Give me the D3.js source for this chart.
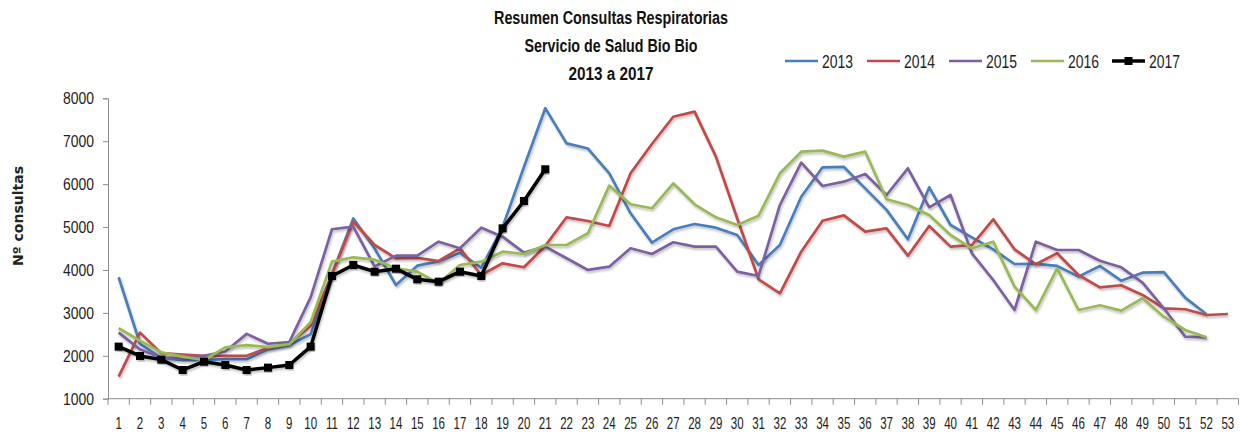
<!DOCTYPE html>
<html><head><meta charset="utf-8">
<script src="https://cdn.jsdelivr.net/npm/d3@7/dist/d3.min.js"></script>
<style>body{margin:0;background:#fff}svg{display:block}</style>
</head><body><div id="chart"></div>
<script>
const weeks = d3.range(1, 54).map(String);
const yTicks = [1000, 2000, 3000, 4000, 5000, 6000, 7000, 8000];
const titleLines = ["Resumen Consultas  Respiratorias", "Servicio de Salud Bio Bio", "2013 a 2017"];
const yTitle = "Nº consultas";
const seriesNames = ["2013", "2014", "2015", "2016", "2017"];
const colors = ["#4A7EBB", "#BE4B48", "#7D60A0", "#98B954", "#000000"];

const s2013 = [3830,2280,1950,1900,1900,1920,1920,2150,2250,2500,3900,5200,4500,3650,4100,4200,4400,4050,5000,6400,7770,6950,6830,6250,5320,4636,4948,5071,4985,4815,4116,4582,5707,6392,6400,5900,5400,4714,5926,5048,4760,4481,4139,4140,4093,3844,4093,3750,3937,3950,3354,2967];
const s2014 = [1514,2540,2060,2030,2000,2000,2000,2180,2280,2700,3900,5125,4582,4272,4280,4209,4505,3883,4155,4062,4560,5227,5140,5025,6252,6935,7571,7688,6640,5200,3782,3456,4426,5148,5273,4892,4970,4333,5025,4543,4580,5180,4481,4132,4388,3883,3596,3643,3417,3107,3084,2951,2974];
const s2015 = [2540,2150,1950,1950,2000,2100,2510,2280,2320,3360,4948,5008,4080,4333,4333,4659,4505,4985,4775,4403,4543,4272,4000,4077,4505,4372,4645,4543,4543,3960,3860,5514,6500,5957,6057,6236,5747,6369,5460,5747,4388,3766,3067,4659,4465,4465,4216,4062,3704,3107,2446,2430];
const s2016 = [2641,2350,2080,1980,1902,2198,2250,2200,2270,2780,4193,4295,4240,4039,3960,3690,4116,4193,4426,4372,4582,4582,4854,5965,5530,5437,6019,5530,5227,5048,5265,6252,6756,6780,6640,6756,5647,5514,5281,4815,4505,4659,3611,3067,4039,3067,3177,3052,3340,2911,2601,2430];
const s2017 = [2213,1996,1910,1669,1863,1786,1669,1724,1786,2213,3860,4116,3960,4030,3782,3727,3960,3860,4970,5607,6346];
const allSeries = [s2013, s2014, s2015, s2016, s2017];

const W = 1241, H = 434;
const svg = d3.select("#chart").append("svg").attr("width", W).attr("height", H);
const font = "'Liberation Sans', Arial, sans-serif";

const x = d3.scaleBand().domain(weeks).range([108, 1238.5]).padding(0);
const y = d3.scaleLinear().domain([1000, 8000]).range([398.7, 98.3]);

// shadow filter
const defs = svg.append("defs");
const f = defs.append("filter").attr("id", "sh").attr("x", "-5%").attr("y", "-5%").attr("width", "110%").attr("height", "120%");
f.append("feDropShadow").attr("dx", 1).attr("dy", 2).attr("stdDeviation", 1.2).attr("flood-color", "#000").attr("flood-opacity", 0.25);

// y axis
const yAxis = svg.append("g").attr("transform", "translate(108,0)")
  .call(d3.axisLeft(y).tickValues(yTicks).tickSize(5).tickFormat(d3.format("d")));
yAxis.select(".domain").attr("stroke", "#8c8c8c");
yAxis.selectAll(".tick line").attr("stroke", "#8c8c8c");
yAxis.selectAll(".tick text").attr("x", null).attr("dy", null)
  .attr("transform", "translate(-14,5.5) scale(0.87,1)")
  .attr("font-family", font).attr("font-size", 16).attr("fill", "#222");

// x axis
const xAxisG = svg.append("g").attr("transform", "translate(0,398.7)");
xAxisG.append("line").attr("x1", 108).attr("x2", 1238.5).attr("stroke", "#8c8c8c");
const bounds = weeks.map(w => x(w)).concat([x(weeks[weeks.length - 1]) + x.bandwidth()]);
xAxisG.selectAll("line.t").data(bounds).join("line").attr("class", "t")
  .attr("x1", d => d).attr("x2", d => d).attr("y1", 0).attr("y2", 6).attr("stroke", "#8c8c8c");
xAxisG.selectAll("text").data(weeks).join("text")
  .attr("transform", d => `translate(${x(d) + x.bandwidth() / 2},30.5) scale(0.72,1)`)
  .attr("text-anchor", "middle").attr("font-family", font).attr("font-size", 16).attr("fill", "#222")
  .text(d => d);

// y title
svg.append("text").attr("transform", "translate(23,216) rotate(-90)")
  .attr("text-anchor", "middle").attr("font-family", "'DejaVu Sans', Verdana, sans-serif")
  .attr("font-weight", "bold").attr("font-size", 14).attr("fill", "#222").text(yTitle);

// title
const titleW = [234, 173, 85];
svg.append("g").selectAll("text").data(titleLines).join("text")
  .attr("x", (d, i) => 611 - titleW[i] / 2).attr("y", (d, i) => 23.5 + i * 28)
  .attr("textLength", (d, i) => titleW[i]).attr("lengthAdjust", "spacingAndGlyphs")
  .attr("font-family", font).attr("font-weight", "bold")
  .attr("font-size", 18).attr("fill", "#111").text(d => d);

// lines
const line = d3.line().x((d, i) => x(weeks[i]) + x.bandwidth() / 2).y(d => y(d));
const plot = svg.append("g");
allSeries.forEach((s, k) => {
  plot.append("path").datum(s).attr("d", line).attr("fill", "none")
    .attr("stroke", colors[k]).attr("stroke-width", k === 4 ? 3.5 : 2.7)
    .attr("stroke-linejoin", "round").attr("filter", "url(#sh)");
});
plot.selectAll("rect.m").data(s2017).join("rect").attr("class", "m")
  .attr("x", (d, i) => x(weeks[i]) + x.bandwidth() / 2 - 4)
  .attr("y", d => y(d) - 4).attr("width", 8).attr("height", 8).attr("fill", "#000")
  .attr("filter", "url(#sh)");

// legend
const legX = [785, 867, 949, 1031, 1112];
const leg = svg.append("g");
seriesNames.forEach((n, k) => {
  const g = leg.append("g").attr("transform", `translate(${legX[k]},61)`);
  g.append("line").attr("x1", 0).attr("x2", 33).attr("stroke", colors[k]).attr("stroke-width", k === 4 ? 3.5 : 2.7);
  if (k === 4) g.append("rect").attr("x", 12.5).attr("y", -4).attr("width", 8).attr("height", 8).attr("fill", "#000");
  g.append("text").attr("x", 37).attr("y", 6.5).attr("textLength", 31).attr("lengthAdjust", "spacingAndGlyphs")
    .attr("font-family", font).attr("font-size", 18).attr("fill", "#222").text(n);
});
</script></body></html>
